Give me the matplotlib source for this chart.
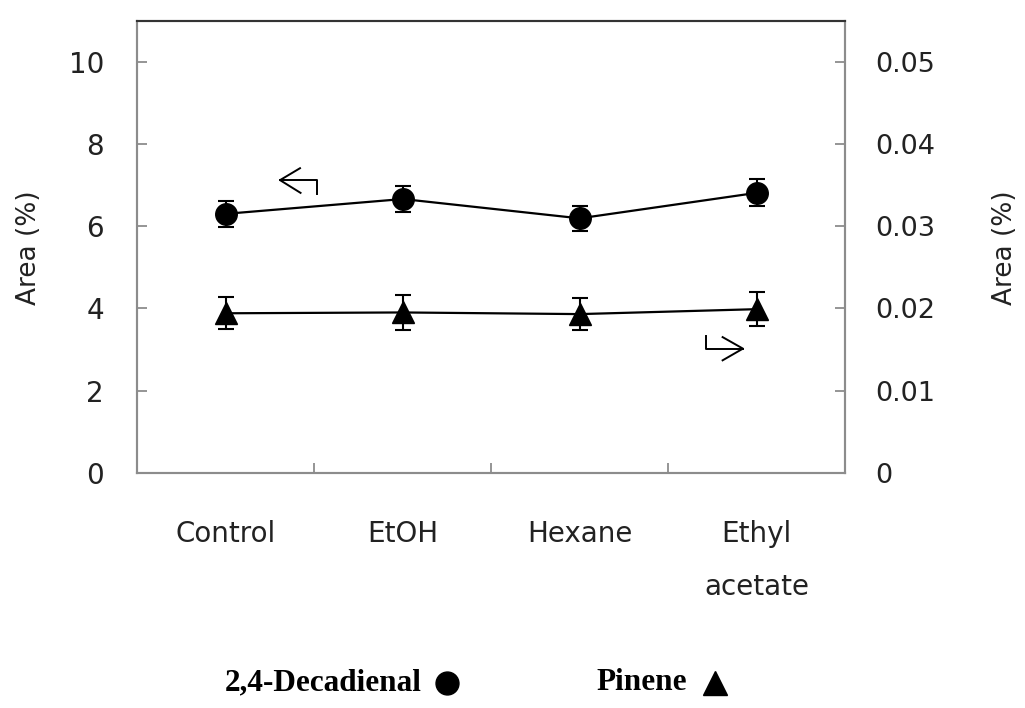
import matplotlib
matplotlib.use("Agg")
import matplotlib.pyplot as plt
from matplotlib.lines import Line2D

# solvent treatments and measured peak areas (%)
treatments = ["Control", "EtOH", "Hexane", "Ethyl\nacetate"]
decadienal = [6.30, 6.66, 6.19, 6.81]
decadienal_err = [0.31, 0.31, 0.31, 0.33]
pinene = [0.0194, 0.0195, 0.0193, 0.0199]
pinene_err = [0.00197, 0.0021, 0.0019, 0.0021]

left_ticks = [0, 2, 4, 6, 8, 10]
left_labels = ["0", "2", "4", "6", "8", "10"]
right_ticks = [0, 0.01, 0.02, 0.03, 0.04, 0.05]
right_labels = ["0", "0.01", "0.02", "0.03", "0.04", "0.05"]

plt.rcParams["font.family"] = "DejaVu Sans"
spine_col = "#8c8c8c"
text_col = "#222222"

fig = plt.figure(figsize=(10.25, 7.08), dpi=100)
ax = fig.add_axes([0.1341, 0.3323, 0.6903, 0.6385])
ax2 = ax.twinx()

xs = [i + 0.5 for i in range(len(treatments))]

ax.errorbar(xs, decadienal, yerr=decadienal_err, fmt="-o", color="black",
            ms=15.5, lw=1.6, elinewidth=1.5, capsize=5.5, capthick=1.5, zorder=3)
ax2.errorbar(xs, pinene, yerr=pinene_err, fmt="-^", color="black",
             ms=15.5, lw=1.6, elinewidth=1.5, capsize=5.5, capthick=1.5, zorder=3)

ax.set_xlim(0, len(treatments))
ax.set_ylim(0, 11)
ax2.set_ylim(0, 0.055)

# category boundaries get the tick marks, centres get the names
ax.set_xticks([1, 2, 3])
ax.set_xticklabels([])
ax.set_xticks(xs, minor=True)
ax.set_xticklabels(treatments, minor=True, fontsize=20, color=text_col,
                   linespacing=2.15)
ax.tick_params(axis="x", which="major", direction="in", length=7,
               width=1.3, color=spine_col)
ax.tick_params(axis="x", which="minor", length=0, pad=34)

ax.set_yticks(left_ticks)
ax.set_yticklabels(left_labels, fontsize=20, color=text_col)
ax.tick_params(axis="y", direction="in", length=7, width=1.3,
               color=spine_col, pad=24)
ax2.set_yticks(right_ticks)
ax2.set_yticklabels(right_labels, fontsize=19.5, color=text_col)
ax2.tick_params(axis="y", direction="in", length=7, width=1.3,
                color=spine_col, pad=22)

for a in (ax, ax2):
    for side in ("left", "right", "bottom"):
        a.spines[side].set_color(spine_col)
        a.spines[side].set_linewidth(1.5)
    a.spines["top"].set_color("#333333")
    a.spines["top"].set_linewidth(1.5)

# hooked arrows telling which axis each curve belongs to
ax.plot([0.806, 1.015, 1.015], [7.12, 7.12, 6.78], color="black", lw=1.4)
ax.plot([0.919, 0.806, 0.922], [7.41, 7.12, 6.81], color="black", lw=1.4)
ax.plot([3.212, 3.212, 3.423], [3.318, 3.02, 3.02], color="black", lw=1.4)
ax.plot([3.308, 3.423, 3.308], [3.30, 3.02, 2.735], color="black", lw=1.4)

fig.text(29 / 1025, 1 - 248 / 708, "Area (%)", rotation=90, ha="center",
         va="center", fontsize=19, color=text_col)
fig.text(1005 / 1025, 1 - 248 / 708, "Area (%)", rotation=90, ha="center",
         va="center", fontsize=19, color=text_col)

# key under the plot
ky = 1 - 683 / 708
fig.text(225 / 1025, ky, "2,4-Decadienal", ha="left", va="center",
         fontsize=22.5, fontweight="bold", family="Liberation Serif")
fig.text(596 / 1025, ky, "Pinene", ha="left", va="center",
         fontsize=22.5, fontweight="bold", family="Liberation Serif")
fig.add_artist(Line2D([447 / 1025], [ky], marker="o", ms=16.5, color="black",
                      transform=fig.transFigure))
fig.add_artist(Line2D([715 / 1025], [ky], marker="^", ms=17, color="black",
                      transform=fig.transFigure))

fig.savefig("out.png", dpi=100)
